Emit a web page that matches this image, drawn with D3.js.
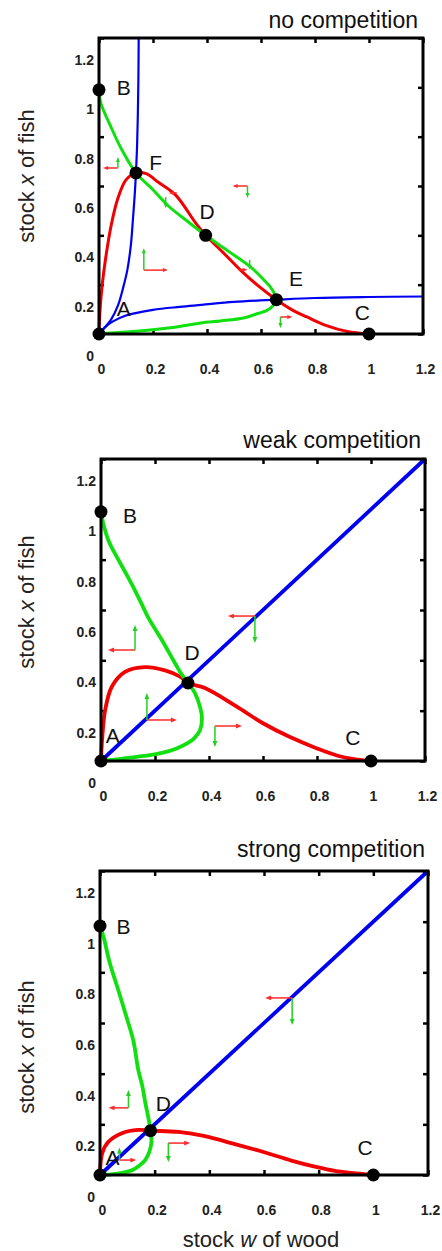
<!DOCTYPE html>
<html><head><meta charset="utf-8">
<script src="https://cdn.jsdelivr.net/npm/d3@7"></script>
<style>body{margin:0;background:#fff} text{font-family:Arial,"Liberation Sans",sans-serif}</style>
</head><body><svg id="c" width="442" height="1251"></svg>
<script>
// ---------- data ----------
const titles = ["no competition", "weak competition", "strong competition"];
const tickValues = [0, 0.2, 0.4, 0.6, 0.8, 1, 1.2];

// Panel 1: no competition
const p1Blue1 = [[0,0],[0.02,0.025],[0.044,0.057],[0.07,0.115],[0.09,0.19],[0.105,0.26],[0.118,0.36],[0.126,0.47],[0.132,0.56],[0.137,0.653],[0.141,0.76],[0.144,0.9],[0.146,1.05],[0.147,1.2]];
const p1Blue2 = [[0,0],[0.02,0.025],[0.05,0.05],[0.1,0.075],[0.2,0.098],[0.3,0.11],[0.38,0.118],[0.5,0.13],[0.657,0.139],[0.8,0.146],[1.0,0.15],[1.2,0.152]];
const p1Red = [[0,0],[0.004,0.1],[0.012,0.2],[0.025,0.31],[0.045,0.44],[0.07,0.55],[0.1,0.625],[0.137,0.653],[0.175,0.65],[0.22,0.615],[0.284,0.563],[0.358,0.45],[0.395,0.40],[0.46,0.33],[0.524,0.259],[0.59,0.195],[0.657,0.139],[0.72,0.095],[0.77,0.069],[0.84,0.035],[0.92,0.01],[1.0,0]];
const p1Green = [[0,0.99],[0.007,0.936],[0.044,0.84],[0.085,0.746],[0.137,0.653],[0.2,0.585],[0.256,0.52],[0.33,0.455],[0.395,0.40],[0.48,0.335],[0.561,0.272],[0.61,0.22],[0.635,0.19],[0.652,0.158],[0.655,0.139],[0.645,0.115],[0.624,0.097],[0.58,0.08],[0.535,0.065],[0.45,0.053],[0.377,0.045],[0.255,0.024],[0.15,0.012],[0.044,0.004],[0,0]];
const p1Points = [["A",0,0],["B",0,0.99],["C",1.0,0],["D",0.395,0.40],["E",0.657,0.139],["F",0.137,0.653]];
const p1Labels = [["A",0.092,0.105],["B",0.092,1.0],["C",0.975,0.089],["D",0.40,0.495],["E",0.73,0.227],["F",0.21,0.697]];
const p1RedArrows = [[0.070,0.673,-0.055],[0.55,0.60,-0.055],[0.166,0.259,0.089],[0.672,0.069,0.044],[0.288,0.572,-0.03],[0.517,0.26,0.033]];
const p1GreenArrows = [[0.070,0.673,0.045],[0.55,0.60,-0.049],[0.166,0.259,0.089],[0.672,0.069,-0.045],[0.247,0.555,-0.045],[0.558,0.30,-0.04]];

// Panel 2: weak competition
const p2Blue = [[0,0],[1.2,1.2]];
const p2Red = [[0,0],[0.004,0.083],[0.015,0.2],[0.04,0.295],[0.089,0.354],[0.163,0.373],[0.237,0.36],[0.293,0.335],[0.322,0.31],[0.385,0.29],[0.5,0.218],[0.6,0.15],[0.7,0.095],[0.8,0.05],[0.88,0.02],[0.95,0.005],[1,0]];
const p2Green = [[0,0.99],[0.008,0.945],[0.03,0.87],[0.059,0.81],[0.09,0.75],[0.12,0.69],[0.15,0.625],[0.174,0.572],[0.226,0.48],[0.293,0.354],[0.322,0.31],[0.348,0.27],[0.368,0.21],[0.374,0.17],[0.367,0.123],[0.345,0.09],[0.322,0.072],[0.28,0.05],[0.226,0.032],[0.16,0.02],[0.1,0.012],[0.04,0.004],[0,0]];
const p2Points = [["A",0,0],["B",0,0.99],["C",1.0,0],["D",0.322,0.31]];
const p2Labels = [["A",0.044,0.103],["B",0.107,0.977],["C",0.933,0.095],["D",0.337,0.43]];
const p2RedArrows = [[0.126,0.441,-0.10],[0.57,0.576,-0.10],[0.17,0.163,0.111],[0.422,0.139,0.10]];
const p2GreenArrows = [[0.126,0.441,0.099],[0.57,0.576,-0.107],[0.17,0.163,0.107],[0.422,0.139,-0.083]];

// Panel 3: strong competition
const p3Blue = [[0,0],[1.2,1.2]];
const p3Red = [[0,0],[0.008,0.086],[0.03,0.13],[0.08,0.165],[0.14,0.178],[0.185,0.175],[0.287,0.17],[0.375,0.155],[0.5,0.12],[0.61,0.087],[0.7,0.057],[0.79,0.032],[0.86,0.016],[0.92,0.008],[1,0]];
const p3Green = [[0,0.983],[0.013,0.94],[0.035,0.84],[0.064,0.74],[0.095,0.63],[0.122,0.53],[0.14,0.415],[0.155,0.35],[0.166,0.284],[0.178,0.22],[0.185,0.175],[0.188,0.13],[0.18,0.09],[0.166,0.06],[0.145,0.038],[0.119,0.02],[0.057,0.004],[0,0]];
const p3Points = [["A",0,0],["B",0,0.983],["C",1.0,0],["D",0.185,0.175]];
const p3Labels = [["A",0.046,0.071],["B",0.086,0.98],["C",0.97,0.107],["D",0.232,0.284]];
const p3RedArrows = [[0.104,0.265,-0.073],[0.703,0.699,-0.099],[0.071,0.059,0.062],[0.25,0.126,0.08]];
const p3GreenArrows = [[0.104,0.265,0.071],[0.703,0.699,-0.107],[0.071,0.059,0.05],[0.25,0.126,-0.075]];

// ---------- drawing ----------
const svg = d3.select("#c");
svg.append("rect").attr("width",442).attr("height",1251).attr("fill","#fff");

const RED = "#f00000", GREEN = "#10e010", BLUE = "#0000f0";
const ARED = "#ff2a2a", AGREEN = "#22d022";

const panels = [
  {title: titles[0], xr:[99,423], yr:[334,38], titleX:418, titleY:28, ylabY:176, lw:3, bw:2.2,
   blues:[p1Blue1,p1Blue2], red:p1Red, green:p1Green, pts:p1Points, labs:p1Labels, ra:p1RedArrows, ga:p1GreenArrows, ah:5},
  {title: titles[1], xr:[101,425], yr:[761,459], titleX:421, titleY:448, ylabY:602, lw:3.8, bw:3.8,
   blues:[p2Blue], red:p2Red, green:p2Green, pts:p2Points, labs:p2Labels, ra:p2RedArrows, ga:p2GreenArrows, ah:6},
  {title: titles[2], xr:[100,428], yr:[1175,871], titleX:425, titleY:857, ylabY:1047, lw:3.8, bw:3.8,
   blues:[p3Blue], red:p3Red, green:p3Green, pts:p3Points, labs:p3Labels, ra:p3RedArrows, ga:p3GreenArrows, ah:6}
];

const fmt = d => d3.format("~g")(d);

function arrow(g, x1, y1, x2, y2, color, L) {
  const dx = x2 - x1, dy = y2 - y1, len = Math.hypot(dx, dy);
  const ux = dx / len, uy = dy / len, px = -uy, py = ux;
  const bx = x2 - ux * L, by = y2 - uy * L;
  g.append("line").attr("x1", x1).attr("y1", y1).attr("x2", bx + ux).attr("y2", by + uy)
    .attr("stroke", color).attr("stroke-width", 1.5);
  g.append("path").attr("d", `M${x2},${y2}L${bx + px * L * 0.4},${by + py * L * 0.4}L${bx - px * L * 0.4},${by - py * L * 0.4}Z`)
    .attr("fill", color);
}

panels.forEach((p, i) => {
  const x = d3.scaleLinear().domain([0, 1.2]).range(p.xr);
  const y = d3.scaleLinear().domain([0, 1.2]).range(p.yr);
  const g = svg.append("g");
  const line = d3.line().x(d => x(d[0])).y(d => y(d[1])).curve(d3.curveCatmullRom.alpha(0.5));

  // axes with inward ticks
  const gl = g.append("g").attr("transform", `translate(${p.xr[0]},0)`)
    .call(d3.axisLeft(y).tickValues(tickValues).tickFormat(fmt).tickSize(-5).tickPadding(5));
  gl.selectAll("text").attr("y", 22).attr("font-size", 14).attr("font-weight", "bold").attr("fill", "#222");
  const gb = g.append("g").attr("transform", `translate(0,${p.yr[0]})`)
    .call(d3.axisBottom(x).tickValues(tickValues).tickFormat(fmt).tickSize(-5).tickPadding(30));
  gb.selectAll("text").attr("font-size", 14).attr("font-weight", "bold").attr("fill", "#222").attr("dx", 2);
  g.append("g").attr("transform", `translate(${p.xr[1]},0)`)
    .call(d3.axisRight(y).tickValues(tickValues).tickFormat("").tickSize(-5));
  g.append("g").attr("transform", `translate(0,${p.yr[1]})`)
    .call(d3.axisTop(x).tickValues(tickValues).tickFormat("").tickSize(-5));
  g.selectAll(".domain").remove();
  g.selectAll(".tick line").attr("stroke", "#000").attr("stroke-width", 2.5);

  // curves
  p.blues.forEach(b => g.append("path").attr("d", line(b)).attr("fill", "none")
    .attr("stroke", BLUE).attr("stroke-width", p.bw));
  g.append("path").attr("d", line(p.red)).attr("fill", "none").attr("stroke", RED).attr("stroke-width", p.lw);
  g.append("path").attr("d", line(p.green)).attr("fill", "none").attr("stroke", GREEN).attr("stroke-width", p.lw);

  // arrows
  p.ra.forEach(a => arrow(g, x(a[0]), y(a[1]), x(a[0] + a[2]), y(a[1]), ARED, p.ah));
  p.ga.forEach(a => arrow(g, x(a[0]), y(a[1]), x(a[0]), y(a[1] + a[2]), AGREEN, p.ah));

  // frame
  g.append("rect").attr("x", p.xr[0]).attr("y", p.yr[1]).attr("width", p.xr[1] - p.xr[0])
    .attr("height", p.yr[0] - p.yr[1]).attr("fill", "none").attr("stroke", "#000").attr("stroke-width", 3);

  // equilibrium points
  g.selectAll("circle.pt").data(p.pts).join("circle").attr("class", "pt")
    .attr("cx", d => x(d[1])).attr("cy", d => y(d[2])).attr("r", 6.5).attr("fill", "#000");
  g.selectAll("text.lab").data(p.labs).join("text").attr("class", "lab")
    .attr("x", d => x(d[1])).attr("y", d => y(d[2])).attr("text-anchor", "middle")
    .attr("dominant-baseline", "central").attr("font-size", 21).attr("fill", "#111").text(d => d[0]);

  // title
  g.append("text").attr("x", p.titleX).attr("y", p.titleY).attr("text-anchor", "end")
    .attr("font-size", 23).attr("fill", "#111").text(p.title);

  // y label
  const yl = g.append("text").attr("transform", `translate(34,${p.ylabY}) rotate(-90)`)
    .attr("text-anchor", "middle").attr("font-size", 22).attr("fill", "#222");
  yl.append("tspan").text("stock ");
  yl.append("tspan").attr("font-style", "italic").text("x");
  yl.append("tspan").text(" of fish");

  if (i === 2) {
    const xl = g.append("text").attr("x", 261).attr("y", 1247).attr("text-anchor", "middle")
      .attr("font-size", 22).attr("fill", "#222");
    xl.append("tspan").text("stock ");
    xl.append("tspan").attr("font-style", "italic").text("w");
    xl.append("tspan").text(" of wood");
  }
});
</script></body></html>
